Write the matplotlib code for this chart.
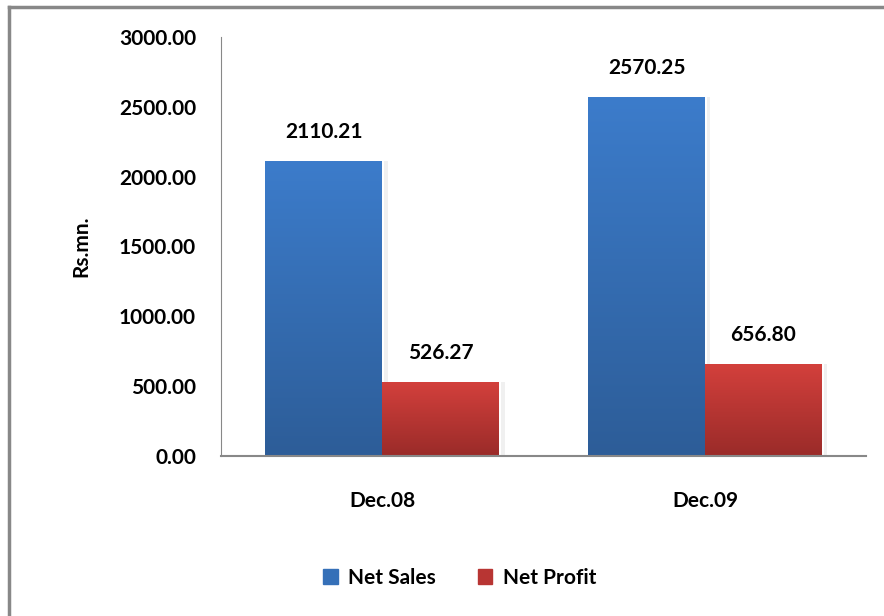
import numpy as np
import matplotlib.pyplot as plt
from matplotlib.lines import Line2D
from matplotlib.patches import Patch

categories = ["Dec.08", "Dec.09"]
net_sales = [2110.21, 2570.25]
net_profit = [526.27, 656.80]
series_names = ["Net Sales", "Net Profit"]
yticks = [0, 500, 1000, 1500, 2000, 2500, 3000]

plt.rcParams['font.family'] = ['Lato', 'DejaVu Sans']
plt.rcParams['font.weight'] = 'bold'

fig = plt.figure(figsize=(8.84, 6.16), dpi=100)
ax = fig.add_axes([0.25, 0.26, 0.73, 0.68])

# cadre gris a gauche et en haut
fig.add_artist(Line2D([0.0105, 0.0105], [0, 0.989], color='#888888', lw=2.5, transform=fig.transFigure))
fig.add_artist(Line2D([0.0105, 1], [0.989, 0.989], color='#888888', lw=2.5, transform=fig.transFigure))

x = np.arange(len(categories))
w = 0.3625

def degrade(bars, haut, bas):
    # remplissage en degrade vertical dans chaque barre
    grad = np.linspace(0, 1, 256).reshape(-1, 1)
    c1 = np.array(plt.matplotlib.colors.to_rgb(haut))
    c2 = np.array(plt.matplotlib.colors.to_rgb(bas))
    img = c2 + (c1 - c2) * grad[..., None]
    img = img.reshape(256, 1, 3)
    for b in bars:
        x0, y0 = b.get_x(), b.get_y()
        # ombre legere a droite
        ax.bar(x0 + b.get_width() + 0.005, b.get_height(), 0.012, align='edge', color='#f0f0f0', zorder=1)
        im = ax.imshow(img, extent=[x0, x0 + b.get_width(), y0, y0 + b.get_height()],
                       aspect='auto', origin='lower', zorder=2)
        im.set_clip_path(b)

b1 = ax.bar(x - w / 2, net_sales, w, color='none', edgecolor='none', zorder=2)
b2 = ax.bar(x + w / 2, net_profit, w, color='none', edgecolor='none', zorder=2)
degrade(b1, '#3c7ccb', '#2d5d98')
degrade(b2, '#d3403c', '#9a2b29')

for bars, vals in ((b1, net_sales), (b2, net_profit)):
    for b, v in zip(bars, vals):
        ax.annotate("%.2f" % v, (b.get_x() + b.get_width() / 2, v), xytext=(0, 14),
                    textcoords='offset points', ha='center', va='bottom', fontsize=15, fontweight='bold')

ax.set_xlim(-0.5, 1.5)
ax.set_ylim(0, 3000)
ax.set_yticks(yticks)
ax.set_yticklabels(["%.2f" % t for t in yticks], fontsize=15, fontweight='bold')
ax.set_xticks(x)
ax.set_xticklabels(categories, fontsize=15, fontweight='bold')
ax.tick_params(axis='both', length=0)
ax.tick_params(axis='y', pad=18)
ax.tick_params(axis='x', pad=25)
ax.set_ylabel("Rs.mn.", fontsize=15, fontweight='bold', labelpad=20)
for s in ['top', 'right']:
    ax.spines[s].set_visible(False)
ax.spines['left'].set_color('#888888')
ax.spines['bottom'].set_color('#888888')
ax.spines['bottom'].set_linewidth(1.5)

handles = [Patch(color='#3570b8'), Patch(color='#b83533')]
fig.legend(handles, series_names, loc='center', bbox_to_anchor=(0.52, 0.062), ncol=2, frameon=False,
           fontsize=15, handlelength=0.7, handleheight=0.7, columnspacing=2.0, handletextpad=0.5)

plt.savefig("out.png", dpi=100)
